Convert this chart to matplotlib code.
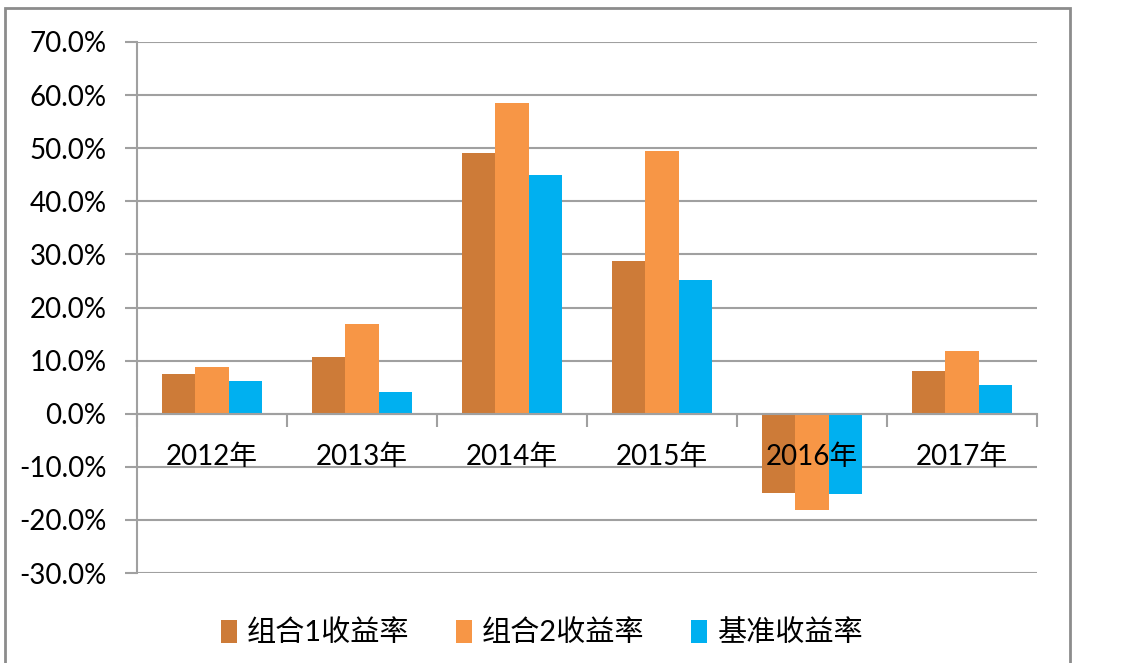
import matplotlib
matplotlib.use("Agg")
import matplotlib.pyplot as plt
from matplotlib.patches import Rectangle
import numpy as np

plt.rcParams['font.family'] = ['Lato', 'Noto Sans CJK SC', 'DejaVu Sans']

years = ['2012年', '2013年', '2014年', '2015年', '2016年', '2017年']
series_names = ['组合1收益率', '组合2收益率', '基准收益率']
combo1 = [7.5, 10.7, 49.1, 28.7, -14.9, 8.0]
combo2 = [8.8, 16.9, 58.5, 49.5, -18.1, 11.8]
bench = [6.2, 4.1, 44.9, 25.2, -15.1, 5.4]
colors = ['#CD7B38', '#F79646', '#00B0F0']
yticks = [-30, -20, -10, 0, 10, 20, 30, 40, 50, 60, 70]

grid_c = '#A0A0A0'

fig = plt.figure(figsize=(11.22, 6.63), dpi=100)
ax = fig.add_axes([137 / 1122, 1 - 573 / 663, 900 / 1122, 531 / 663])

x = np.arange(len(years))
w = 0.222
for i, (vals, name, c) in enumerate(zip([combo1, combo2, bench], series_names, colors)):
    ax.bar(x + (i - 1) * w, vals, width=w, color=c, label=name, zorder=2)

ax.set_xlim(-0.5, len(years) - 0.5)
ax.set_ylim(-30, 70)
ax.set_yticks(yticks)
ax.set_yticklabels([f'{v:.1f}%' for v in yticks], fontsize=20)
ax.yaxis.grid(True, color=grid_c, linewidth=1.5)
ax.yaxis.set_zorder(1)
ax.tick_params(axis='y', length=9, width=1.5, color=grid_c, pad=13)

for s in ['top', 'right']:
    ax.spines[s].set_visible(False)
ax.spines['left'].set_color(grid_c)
ax.spines['left'].set_linewidth(1.5)
ax.spines['bottom'].set_position(('data', 0))
ax.spines['bottom'].set_color(grid_c)
ax.spines['bottom'].set_linewidth(1.5)
ax.spines['bottom'].set_zorder(4)

# category boundary ticks + centered labels (drawn above the bars)
ax.xaxis.set_zorder(5)
ax.set_xticks(np.arange(len(years) + 1) - 0.5)
ax.set_xticklabels([])
ax.tick_params(axis='x', which='major', length=9, width=1.5, color=grid_c, direction='out')
ax.set_xticks(x, minor=True)
ax.set_xticklabels(years, minor=True, fontsize=20)
ax.tick_params(axis='x', which='minor', length=0, pad=22)

fig.legend(loc='center', bbox_to_anchor=(0.483, 1 - 633 / 663), ncol=3, frameon=False,
           fontsize=21, handlelength=0.55, handleheight=0.85, handletextpad=0.35,
           columnspacing=1.6)

fig.patches.append(Rectangle((5 / 1122, -0.1), 1065 / 1122, 1.1 - 8 / 663,
                             transform=fig.transFigure, fill=False,
                             edgecolor='#8C8C8C', linewidth=2))

fig.savefig('out.png', dpi=100)
